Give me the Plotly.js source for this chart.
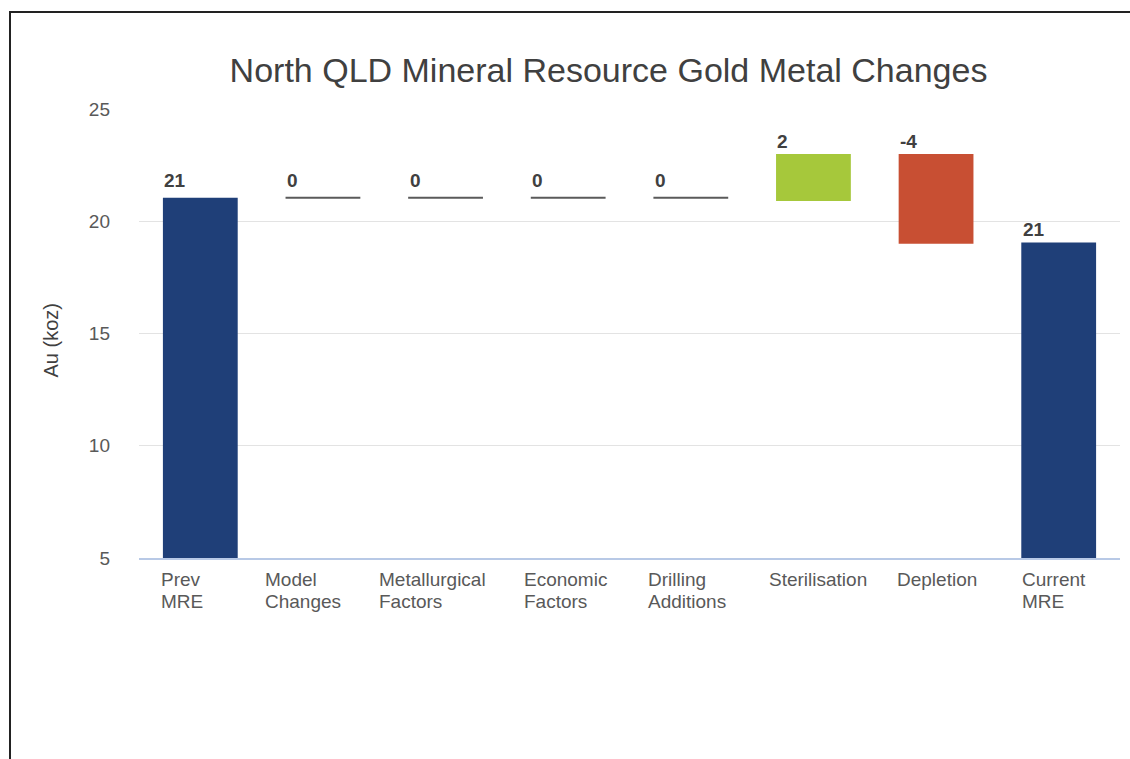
<!DOCTYPE html>
<html>
<head>
<meta charset="utf-8">
<script src="https://cdn.plot.ly/plotly-3.0.1.min.js"></script>
<style>
  html, body { margin: 0; padding: 0; background: #fff; overflow: hidden; }
  #chart { width: 1130px; height: 759px; }
  #frame { position: absolute; top: 11px; left: 9px; width: 2000px; height: 2000px;
           border-top: 2px solid #222; border-left: 2px solid #222; pointer-events: none; }
</style>
</head>
<body>
<div id="chart"></div>
<div id="frame"></div>
<script>
// ---- data ----
const categories = ['Prev MRE', 'Model Changes', 'Metallurgical Factors', 'Economic Factors',
                    'Drilling Additions', 'Sterilisation', 'Depletion', 'Current MRE'];
const categoryLabels = ['Prev<br>MRE', 'Model<br>Changes', 'Metallurgical<br>Factors', 'Economic<br>Factors',
                        'Drilling<br>Additions', 'Sterilisation', 'Depletion', 'Current<br>MRE'];
const barStart = [5, 21.05, 21.05, 21.05, 21.05, 20.9, 23.0, 5];
const barEnd   = [21.05, 21.05, 21.05, 21.05, 21.05, 23.0, 19.0, 19.05];
const valueLabels = ['21', '0', '0', '0', '0', '2', '-4', '21'];
const barKind = ['total', 'none', 'none', 'none', 'none', 'increase', 'decrease', 'total'];

// ---- styling ----
const kindColor = { total: '#1f3f78', increase: '#a6c83b', decrease: '#c84f33', none: '#5a5a5a' };
const yRange = [5, 25];
const plotTop = 109, plotBottom = 558;
const unitsPerPx = (yRange[1] - yRange[0]) / (plotBottom - plotTop);
const lineUnits = 2 * unitsPerPx;
const labelXShift = [-41, -60, -69, -46, -45, -46, -41, -39];
const valueYShift = [5, 5, 5, 5, 5, 0, 0, 1];
const catLineGap = 22;

const bases = [], heights = [], colors = [], tops = [];
for (let i = 0; i < categories.length; i++) {
  const lo = Math.min(barStart[i], barEnd[i]);
  const hi = Math.max(barStart[i], barEnd[i]);
  if (barKind[i] === 'none') {
    bases.push(hi - lineUnits / 2);
    heights.push(lineUnits);
  } else {
    bases.push(lo);
    heights.push(hi - lo);
  }
  colors.push(kindColor[barKind[i]]);
  tops.push(hi);
}

const trace = {
  type: 'bar',
  x: categories,
  y: heights,
  base: bases,
  width: 0.61,
  marker: { color: colors, line: { width: 0 } },
  hoverinfo: 'skip'
};

const font = "'Liberation Sans', Arial, sans-serif";
const annotations = [];
for (let i = 0; i < categories.length; i++) {
  annotations.push({
    x: categories[i], y: tops[i], xref: 'x', yref: 'y',
    text: '<b>' + valueLabels[i] + '</b>', showarrow: false,
    xanchor: 'left', yanchor: 'bottom', xshift: -38, yshift: valueYShift[i],
    font: { family: font, size: 19, color: '#404040' }
  });
  const lines = categoryLabels[i].split('<br>');
  lines.forEach(function (ln, k) {
    annotations.push({
      x: categories[i], y: 0, xref: 'x', yref: 'paper',
      text: ln, showarrow: false, align: 'left',
      xanchor: 'left', yanchor: 'top', xshift: labelXShift[i], yshift: -9 - k * catLineGap,
      font: { family: font, size: 19, color: '#595959' }
    });
  });
}
annotations.push({
  x: 0, y: 0.5, xref: 'paper', yref: 'paper', xshift: -89, yshift: -7,
  text: 'Au (koz)', textangle: -90, showarrow: false,
  xanchor: 'center', yanchor: 'middle',
  font: { family: font, size: 20, color: '#404040' }
});

const layout = {
  width: 1130, height: 759,
  margin: { l: 139, r: 10, t: plotTop, b: 759 - plotBottom, pad: 0 },
  paper_bgcolor: '#ffffff', plot_bgcolor: '#ffffff',
  showlegend: false,
  font: { family: font, color: '#595959' },
  title: {
    text: 'North QLD Mineral Resource Gold Metal Changes',
    xref: 'container', yref: 'container', x: 0.5385, y: 1 - 70 / 759,
    xanchor: 'center', yanchor: 'middle',
    font: { family: font, size: 34, color: '#404040' }
  },
  xaxis: {
    type: 'category', showticklabels: false, ticks: '',
    showgrid: false, zeroline: false,
    showline: true, linecolor: '#b8c9e6', linewidth: 1.5,
    fixedrange: true
  },
  yaxis: {
    range: yRange, tickvals: [5, 10, 15, 20, 25],
    showgrid: true, gridcolor: '#e3e3e3', gridwidth: 1,
    zeroline: false, showline: false, ticks: '',
    ticklabelstandoff: 28,
    tickfont: { family: font, size: 19, color: '#595959' },
    fixedrange: true
  },
  annotations: annotations
};

Plotly.newPlot('chart', [trace], layout, { displayModeBar: false, staticPlot: true });
</script>
</body>
</html>
